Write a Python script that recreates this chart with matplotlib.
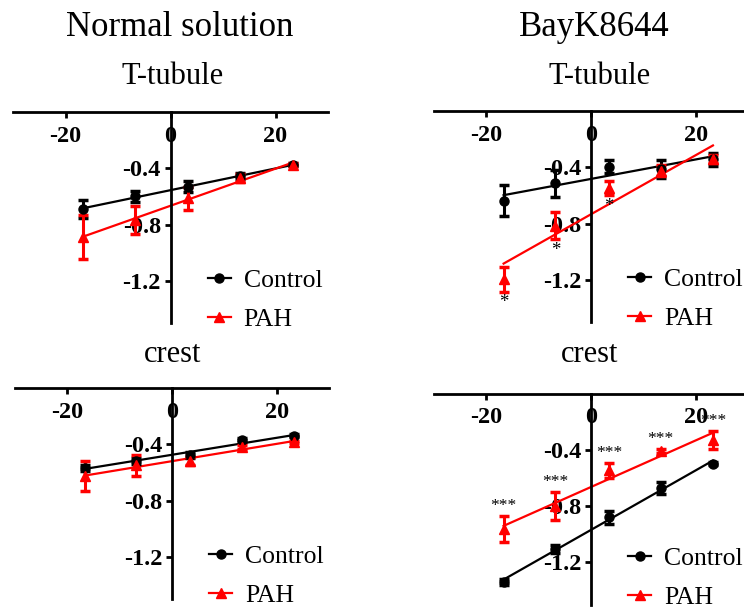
import numpy as np
import matplotlib
matplotlib.use("Agg")
import matplotlib.pyplot as plt
from matplotlib.lines import Line2D

plt.rcParams["font.family"] = ["Liberation Serif", "DejaVu Serif"]
plt.rcParams["axes.unicode_minus"] = False

# Membrane potential steps (mV) and mean values per group
voltage = [-16.7, -6.8, 3.4, 13.3, 23.3]

# Normal solution, T-tubule
ns_tt_ctrl = [-0.69, -0.60, -0.53, -0.455, -0.376]
ns_tt_ctrl_err = [0.065, 0.04, 0.04, 0.02, 0.01]
ns_tt_pah = [-0.887, -0.768, -0.614, -0.47, -0.376]
ns_tt_pah_err = [0.155, 0.097, 0.08, 0.03, 0.01]

# Normal solution, crest
ns_cr_ctrl = [-0.568, -0.518, -0.478, -0.37, -0.34]
ns_cr_ctrl_err = [0.02, 0.02, 0.02, 0.015, 0.01]
ns_cr_pah = [-0.627, -0.55, -0.518, -0.42, -0.384]
ns_cr_pah_err = [0.107, 0.073, 0.03, 0.015, 0.01]

# BayK8644, T-tubule
bk_tt_ctrl = [-0.637, -0.514, -0.396, -0.41, -0.343]
bk_tt_ctrl_err = [0.11, 0.095, 0.047, 0.063, 0.045]
bk_tt_pah = [-1.195, -0.815, -0.55, -0.424, -0.34]
bk_tt_pah_err = [0.089, 0.098, 0.05, 0.04, 0.03]
bk_tt_marks = ["*", "*", "*", "", ""]

# BayK8644, crest
bk_cr_ctrl = [-1.342, -1.105, -0.88, -0.672, -0.50]
bk_cr_ctrl_err = [0.02, 0.03, 0.045, 0.04, 0.01]
bk_cr_pah = [-0.963, -0.80, -0.547, -0.41, -0.33]
bk_cr_pah_err = [0.091, 0.10, 0.053, 0.015, 0.062]
bk_cr_marks = ["***", "***", "***", "***", "***"]

xticks = [-20, 0, 20]
yticks = [-1.2, -0.8, -0.4]

W, H = 744, 608
fig = plt.figure(figsize=(W / 100, H / 100), dpi=100)


def px_axes(x0, y0, x1, y1):
    """Axes from pixel box (x-axis at y0 row, bottom at y1 row)."""
    return fig.add_axes([x0 / W, 1 - y1 / H, (x1 - x0) / W, (y1 - y0) / H])


def draw_panel(ax, ctrl, ctrl_err, pah, pah_err, marks=None, mark_above=False,
               legend_y=-0.087):
    x = np.array(voltage)
    for y, e, color, marker in [(ctrl, ctrl_err, "black", "o"),
                                (pah, pah_err, "red", "^")]:
        y = np.array(y)
        ax.errorbar(x, y, yerr=e, fmt=marker, color=color, ms=6.5,
                    elinewidth=2.2, capsize=3.5, capthick=2.5, zorder=3)
        k, b = np.polyfit(x, y, 1)
        xs = np.array([x[0], x[-1]])
        ax.plot(xs, k * xs + b, color=color, lw=1.6, zorder=2)
    if marks is not None:
        for xi, yi, ei, m in zip(voltage, pah, pah_err, marks):
            if not m:
                continue
            if mark_above:
                ax.text(xi, yi + ei + 0.015, m, ha="center", va="bottom",
                        fontsize=12.5)
            else:
                ax.text(xi, yi - ei - 0.02, m, ha="center", va="top",
                        fontsize=13.5)

    ax.set_xlim(-30, 30)
    ax.set_ylim(-1.5, 0)
    for s in ("top", "right"):
        ax.spines[s].set_visible(False)
    ax.spines["left"].set_position(("data", 0))
    ax.spines["bottom"].set_position(("data", 0))
    for s in ("left", "bottom"):
        ax.spines[s].set_linewidth(2)
    ax.set_xticks(xticks)
    ax.set_xticklabels([str(t) for t in xticks])
    ax.set_yticks(yticks)
    ax.set_yticklabels([f"{t:.1f}" for t in yticks])
    ax.tick_params(axis="both", width=2, length=4, labelsize=17.5)
    ax.tick_params(axis="x", pad=6)
    ax.tick_params(axis="y", pad=3)
    for lab in ax.get_xticklabels() + ax.get_yticklabels():
        lab.set_fontweight("bold")
    ax.patch.set_visible(False)

    handles = [Line2D([], [], color="black", marker="o", ms=6.5, lw=1.6),
               Line2D([], [], color="red", marker="^", ms=6.5, lw=1.6)]
    ax.legend(handles, ["Control", "PAH"], loc="lower left",
              bbox_to_anchor=(0.585, legend_y), frameon=False, fontsize=18.5,
              handlelength=0.9, handletextpad=0.5, labelspacing=0.62,
              borderaxespad=0)


ax1 = px_axes(13, 112, 328, 323)
draw_panel(ax1, ns_tt_ctrl, ns_tt_ctrl_err, ns_tt_pah, ns_tt_pah_err)
ax2 = px_axes(434, 111, 748, 322)
draw_panel(ax2, bk_tt_ctrl, bk_tt_ctrl_err, bk_tt_pah, bk_tt_pah_err,
           marks=bk_tt_marks)
ax3 = px_axes(15, 388, 329, 599)
draw_panel(ax3, ns_cr_ctrl, ns_cr_ctrl_err, ns_cr_pah, ns_cr_pah_err)
ax4 = px_axes(434, 393.5, 748, 604.5)
draw_panel(ax4, bk_cr_ctrl, bk_cr_ctrl_err, bk_cr_pah, bk_cr_pah_err,
           marks=bk_cr_marks, mark_above=True, legend_y=-0.068)

fig.text(180 / W, 1 - 27 / H, "Normal solution", ha="center", va="center",
         fontsize=25)
fig.text(594 / W, 1 - 27 / H, "BayK8644", ha="center", va="center",
         fontsize=25)
fig.text(173 / W, 1 - 77 / H, "T-tubule", ha="center", va="center",
         fontsize=22)
fig.text(600 / W, 1 - 77 / H, "T-tubule", ha="center", va="center",
         fontsize=22)
fig.text(173 / W, 1 - 354 / H, "crest", ha="center", va="center",
         fontsize=22)
fig.text(590 / W, 1 - 354 / H, "crest", ha="center", va="center",
         fontsize=22)

fig.savefig("out.png", dpi=100)
